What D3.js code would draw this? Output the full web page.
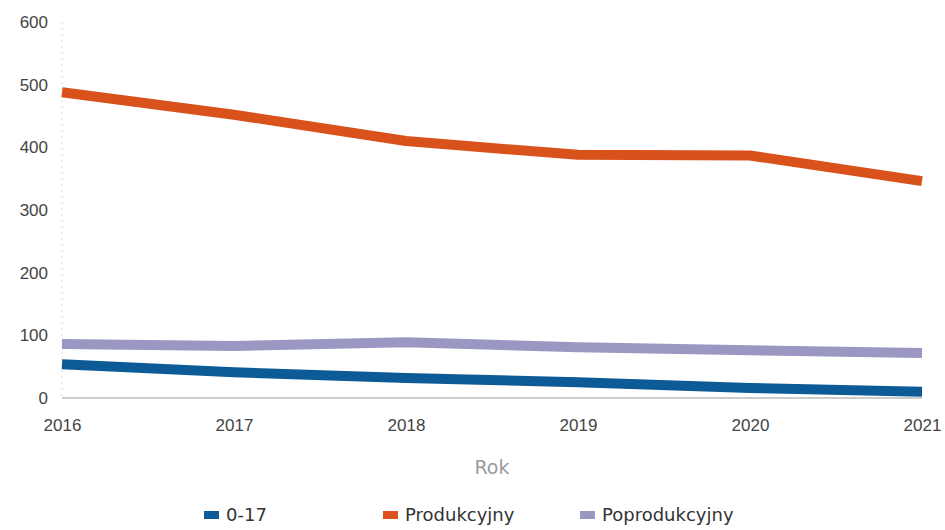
<!DOCTYPE html>
<html>
<head>
<meta charset="utf-8">
<script src="https://cdn.jsdelivr.net/npm/d3@7"></script>
<style>
  html, body { margin: 0; padding: 0; background: #fff; }
  svg { display: block; font-family: "DejaVu Sans", "Noto Sans", sans-serif; }
</style>
</head>
<body>
<svg id="chart" width="945" height="530"></svg>
<script>
const years = [2016, 2017, 2018, 2019, 2020, 2021];
const seriesNames = ["0-17", "Produkcyjny", "Poprodukcyjny"];
const values017 = [54, 41, 32, 25, 16, 10];
const valuesProd = [488, 452, 410, 388, 387, 346];
const valuesPoprod = [86, 83, 89, 81, 76, 72];
const yTicks = [0, 100, 200, 300, 400, 500, 600];
const colors = ["#0d5b96", "#d9521c", "#9a98c2"];

const series = [
  { name: seriesNames[0], values: values017, color: colors[0] },
  { name: seriesNames[1], values: valuesProd, color: colors[1] },
  { name: seriesNames[2], values: valuesPoprod, color: colors[2] }
];

const svg = d3.select("#chart");
const margin = { left: 62, right: 23, top: 22, bottom: 132 };
const W = 945, H = 530;

const x = d3.scalePoint().domain(years).range([margin.left, W - margin.right]);
const y = d3.scaleLinear().domain([0, 600]).range([H - margin.bottom, margin.top]);

// left dashed guide
svg.append("line")
  .attr("x1", margin.left).attr("x2", margin.left)
  .attr("y1", y(600)).attr("y2", y(0))
  .attr("stroke", "#ddd").attr("stroke-dasharray", "2,4").attr("stroke-width", 1);

// y axis
const yAxis = svg.append("g")
  .attr("transform", `translate(${margin.left},0)`)
  .call(d3.axisLeft(y).tickValues(yTicks).tickSize(0).tickPadding(14));
yAxis.select(".domain").remove();
yAxis.selectAll("text").attr("font-size", 17).attr("fill", "#444");

// baseline
svg.append("line")
  .attr("x1", margin.left).attr("x2", W - margin.right)
  .attr("y1", y(0)).attr("y2", y(0))
  .attr("stroke", "#999").attr("stroke-width", 1);

// x axis
const xAxis = svg.append("g")
  .attr("transform", `translate(0,${y(0)})`)
  .call(d3.axisBottom(x).tickFormat(d3.format("d")).tickSize(0).tickPadding(21));
xAxis.select(".domain").remove();
xAxis.selectAll("text").attr("font-size", 17).attr("fill", "#444");

// axis title
svg.append("text")
  .attr("x", (margin.left + W - margin.right) / 2)
  .attr("y", 474)
  .attr("text-anchor", "middle")
  .attr("font-size", 19).attr("fill", "#9a9a9a")
  .text("Rok");

// lines
const line = d3.line()
  .x((d, i) => x(years[i]))
  .y(d => y(d))
  .curve(d3.curveLinear);

svg.selectAll(".series")
  .data(series)
  .join("path")
  .attr("class", "series")
  .attr("d", d => line(d.values))
  .attr("fill", "none")
  .attr("stroke", d => d.color)
  .attr("stroke-width", 10)
  .attr("stroke-linejoin", "round");

// legend
const legendX = [204, 383, 580];
const lg = svg.selectAll(".lg").data(series).join("g")
  .attr("class", "lg")
  .attr("transform", (d, i) => `translate(${legendX[i]},515)`);
lg.append("rect").attr("x", 0).attr("y", -4).attr("width", 15).attr("height", 8)
  .attr("fill", d => d.color);
lg.append("text").attr("x", 22).attr("y", 0).attr("dy", "0.35em")
  .attr("font-size", 18).attr("fill", "#333")
  .text(d => d.name);
</script>
</body>
</html>
